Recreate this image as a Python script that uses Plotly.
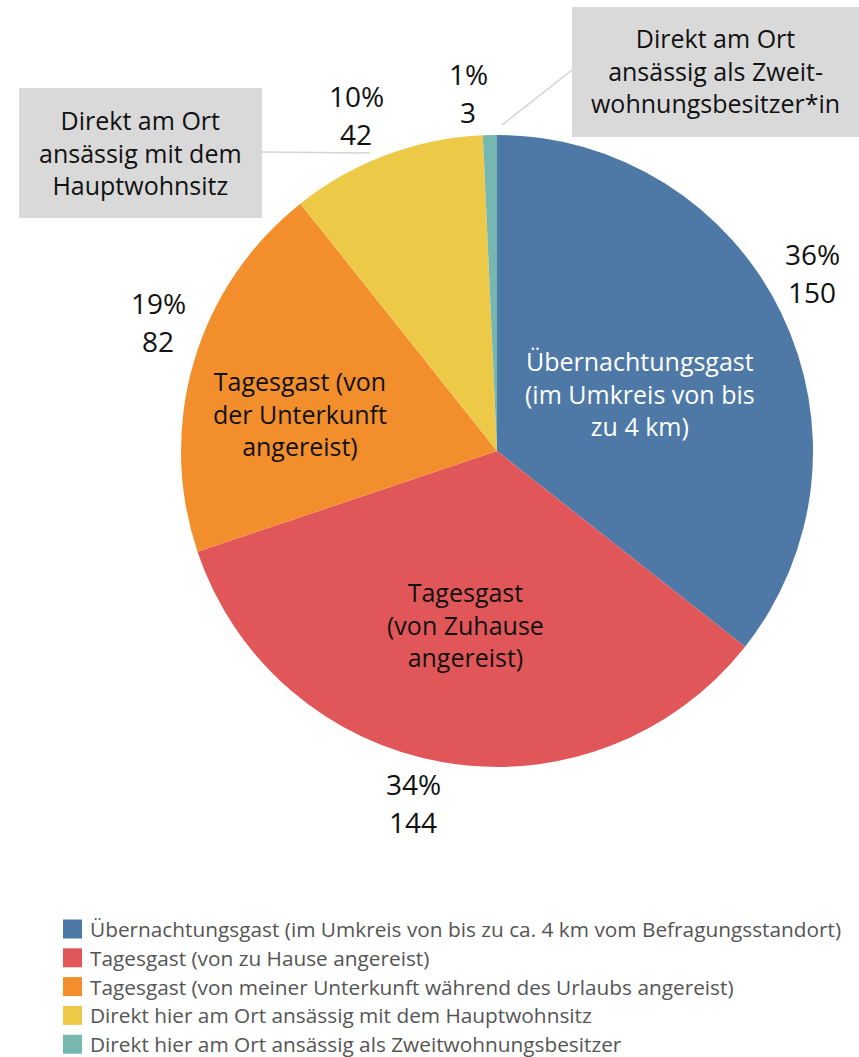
import plotly.graph_objects as go

# ---- data ----
categories = [
    "Übernachtungsgast (im Umkreis von bis zu ca. 4 km vom Befragungsstandort)",
    "Tagesgast (von zu Hause angereist)",
    "Tagesgast (von meiner Unterkunft während des Urlaubs angereist)",
    "Direkt hier am Ort ansässig mit dem Hauptwohnsitz",
    "Direkt hier am Ort ansässig als Zweitwohnungsbesitzer",
]
counts = [150, 144, 82, 42, 3]
inner_labels = [
    "Übernachtungsgast<br>(im Umkreis von bis<br>zu 4 km)",
    "Tagesgast<br>(von Zuhause<br>angereist)",
    "Tagesgast (von<br>der Unterkunft<br>angereist)",
    "",
    "",
]
callout_labels = {
    3: "Direkt am Ort<br>ansässig mit dem<br>Hauptwohnsitz",
    4: "Direkt am Ort<br>ansässig als Zweit-<br>wohnungsbesitzer*in",
}
colors = ["#4e79a7", "#e15759", "#f28e2b", "#edc948", "#76b7b2"]

# ---- layout geometry (pixels) ----
W, H = 859, 1057
CX, CY, R = 497, 451, 316
FONT = "Open Sans"
# centre of the percent line of each outside label, and the inner label centres
outer_pos = [(812, 254), (413, 784), (158, 303), (356, 96), (468, 74)]
OUTER_DY = 38
inner_pos = [(640, 393), (465, 624), (300, 413), None, None]


def px(x):
    return x / W


def py(y):
    return 1 - y / H


fig = go.Figure()
fig.add_trace(go.Pie(
    labels=categories,
    values=counts,
    sort=False,
    direction="clockwise",
    rotation=0,
    marker=dict(colors=colors, line=dict(width=0)),
    textinfo="none",
    hoverinfo="label+value+percent",
    domain=dict(x=[px(CX - R), px(CX + R)], y=[py(CY + R), py(CY - R)]),
    showlegend=False,
))

total = sum(counts)
annotations = []
shapes = []

for i, v in enumerate(counts):
    pct = round(v / total * 100)
    ox, oy = outer_pos[i]
    for j, txt in enumerate([f"{pct}%", f"{v}"]):
        annotations.append(dict(
            x=px(ox), y=py(oy + j * OUTER_DY), xref="paper", yref="paper",
            text=txt, showarrow=False,
            font=dict(family=FONT, size=28, color="#111111"),
            xanchor="center", yanchor="middle", align="center",
        ))
    if inner_labels[i]:
        ix, iy = inner_pos[i]
        annotations.append(dict(
            x=px(ix), y=py(iy), xref="paper", yref="paper",
            text=inner_labels[i], showarrow=False,
            font=dict(family=FONT, size=25,
                      color="white" if i == 0 else "#111111"),
            xanchor="center", yanchor="middle", align="center",
        ))

# callout boxes
boxes = {3: (19, 88, 262, 218), 4: (572, 7, 859, 137)}
lines = {3: (262, 152, 370, 153), 4: (572, 70, 502, 125)}
for k, (x0, y0, x1, y1) in boxes.items():
    shapes.append(dict(type="rect", xref="paper", yref="paper",
                       x0=px(x0), x1=px(x1), y0=py(y1), y1=py(y0),
                       fillcolor="#d9d9d9", line=dict(width=0), layer="below"))
    annotations.append(dict(
        x=px((x0 + x1) / 2), y=py((y0 + y1) / 2 - 1), xref="paper", yref="paper",
        text=callout_labels[k], showarrow=False,
        font=dict(family=FONT, size=25, color="#111111"),
        xanchor="center", yanchor="middle", align="center",
    ))
    lx0, ly0, lx1, ly1 = lines[k]
    shapes.append(dict(type="line", xref="paper", yref="paper",
                       x0=px(lx0), x1=px(lx1), y0=py(ly0), y1=py(ly1),
                       line=dict(color="#d4d4d4", width=1.5)))

# custom legend
LEG_X, LEG_Y0, LEG_DY, SQ = 63, 929, 28.8, 19
for i, cat in enumerate(categories):
    yc = LEG_Y0 + i * LEG_DY
    shapes.append(dict(type="rect", xref="paper", yref="paper",
                       x0=px(LEG_X), x1=px(LEG_X + SQ),
                       y0=py(yc + SQ / 2), y1=py(yc - SQ / 2),
                       fillcolor=colors[i], line=dict(width=0)))
    annotations.append(dict(
        x=px(LEG_X + SQ + 6), y=py(yc), xref="paper", yref="paper",
        text=cat, showarrow=False,
        font=dict(family=FONT, size=20.8, color="#555555"),
        xanchor="left", yanchor="middle",
    ))

fig.update_layout(
    width=W, height=H,
    margin=dict(l=0, r=0, t=0, b=0),
    paper_bgcolor="white",
    plot_bgcolor="white",
    annotations=annotations,
    shapes=shapes,
)

fig.write_html("out.html", config={"displayModeBar": False},
               post_script="document.body.style.margin='0px';")
